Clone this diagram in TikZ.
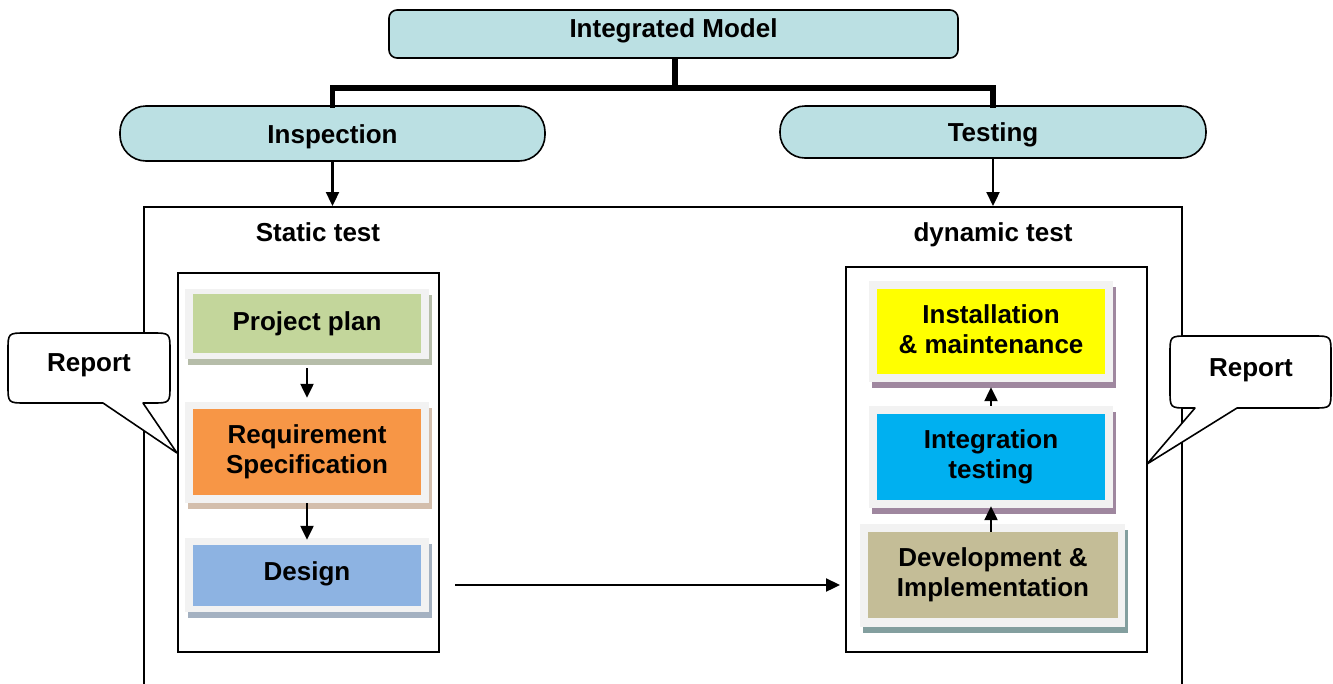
\documentclass[tikz,border=0pt]{standalone}
\usepackage{fontspec}
\setmainfont{Liberation Sans}
\usetikzlibrary{arrows.meta}
\definecolor{topfill}{HTML}{BBE0E3}
\definecolor{framegray}{HTML}{F2F2F2}
\definecolor{ppgreen}{HTML}{C3D69B}
\definecolor{rsorange}{HTML}{F79646}
\definecolor{desblue}{HTML}{8DB3E2}
\definecolor{instyellow}{HTML}{FFFF00}
\definecolor{integcyan}{HTML}{00B0F0}
\definecolor{devtan}{HTML}{C4BD97}
\tikzset{
  txt/.style={font=\fontsize{26}{30}\selectfont\bfseries, align=center, text=black},
  topbox/.style={txt, draw=black, line width=1.6pt, fill=topfill, inner sep=0pt},
  panel/.style={draw=black, line width=1.8pt, fill=white, inner sep=0pt},
  framebox/.style={fill=framegray, inner sep=0pt},
  colbox/.style={txt, inner sep=0pt},
  shadowbox/.style={inner sep=0pt},
  arr/.style={line width=2.3pt, -{Triangle[length=14pt,width=13pt]}},
  link/.style={line width=5.5pt},
  callout/.style={draw=black, line width=1.6pt, fill=white, line join=round},
  lower3/.style={text height=25pt, text depth=5.5pt}
}
\begin{document}
\begin{tikzpicture}[x=1pt,y=-1pt]
\useasboundingbox (0,0) rectangle (1333,683);
% top boxes
\node[topbox, rounded corners=8pt, minimum width=569pt, minimum height=48pt, text height=13pt, text depth=5.5pt] (im) at (673.5,34) {Integrated Model};
\node[topbox, lower3, rounded corners=26pt, minimum width=425pt, minimum height=55pt] (insp) at (332.5,133.5) {Inspection};
\node[topbox, lower3, rounded corners=25pt, minimum width=426pt, minimum height=52pt] (test) at (993,132) {Testing};
\coordinate (j) at (675,88);
\draw[link] (im.south -| j) -- (j);
\draw[link, line cap=rect] (insp.north) |- (j) -| (test.north);
% big panel
\node[panel, anchor=north west, minimum width=1038pt, minimum height=500pt] (big) at (143,206) {};
\draw[arr] (insp.south) -- (insp.south |- big.north);
\draw[arr] (test.south) -- (test.south |- big.north);
\node[txt, anchor=base] (st) at (318,241.5) {Static test};
\node[txt, anchor=base] (dt) at (993,241.5) {dynamic test};
% inner panels
\node[panel, minimum width=261pt, minimum height=379pt] (lbox) at (308.5,462.5) {};
\node[panel, minimum width=301pt, minimum height=385pt] (rbox) at (996.5,459.5) {};
% left stack
\node[shadowbox, fill=ppgreen!45!gray!75, minimum width=244pt, minimum height=70pt] (pps) at (310,330) {};
\node[framebox, minimum width=244pt, minimum height=70pt] (ppf) at (307,324) {};
\node[colbox, fill=ppgreen, minimum width=228pt, minimum height=59pt] (pp) at (307,323.5) {Project plan};

\node[shadowbox, fill=rsorange!40!gray!55, minimum width=244pt, minimum height=101pt] (rss) at (310,458.5) {};
\node[framebox, minimum width=244pt, minimum height=101pt] (rsf) at (307,452.5) {};
\node[colbox, fill=rsorange, minimum width=228pt, minimum height=86pt] (rs) at (307,452) {Requirement\\Specification};

\node[shadowbox, fill=desblue!45!gray!75, minimum width=244pt, minimum height=74pt] (dess) at (310,581) {};
\node[framebox, minimum width=244pt, minimum height=74pt] (desf) at (307,575) {};
\node[colbox, fill=desblue, minimum width=228pt, minimum height=61pt, text height=15pt, text depth=5.5pt] (des) at (307,575.5) {Design};

% right stack
\node[shadowbox, fill=violet!25!gray!75, minimum width=244pt, minimum height=101pt] (insts) at (994,337.5) {};
\node[framebox, minimum width=244pt, minimum height=101pt] (instf) at (991,331.5) {};
\node[colbox, fill=instyellow, minimum width=228pt, minimum height=85pt] (inst) at (991,331.5) {Installation\\\& maintenance\vphantom{g}};

\node[shadowbox, fill=violet!25!gray!75, minimum width=244pt, minimum height=102pt] (integs) at (994,463) {};
\node[framebox, minimum width=244pt, minimum height=102pt] (integf) at (991,457) {};
\node[colbox, fill=integcyan, minimum width=228pt, minimum height=86pt] (integ) at (991,457) {Integration\\testing};

\node[shadowbox, fill=teal!30!gray!75, minimum width=265pt, minimum height=103pt] (devs) at (995.5,581.5) {};
\node[framebox, minimum width=265pt, minimum height=103pt] (devf) at (992.5,575.5) {};
\node[colbox, fill=devtan, minimum width=250pt, minimum height=86pt] (dev) at (993,575) {Development \&\\Implementation};

% arrows
\draw[arr, shorten <=9pt, shorten >=4pt] (ppf.south) -- (rsf.north);
\draw[arr, shorten >=-2pt] (rsf.south) -- (desf.north);
\draw[arr, shorten >=5pt] (integf.north -| instf.south) -- (instf.south);
\draw[arr, shorten >=-2pt] (dev.north -| integf.south) -- (integf.south);
\coordinate (hl) at (455,585);
\coordinate (hr) at (840,585);
\draw[arr] (hl) -- (hr);

% callouts
\draw[callout] (103,403) -- (177,453) -- (143,403) -- (152,403)
  .. controls (170,403) .. (170,385) -- (170,351)
  .. controls (170,333) .. (152,333) -- (26,333)
  .. controls (8,333) .. (8,351) -- (8,385)
  .. controls (8,403) .. (26,403) -- cycle;
\node[txt, lower3] (rep1) at (89,362) {Report};
\draw[callout] (1237,408) -- (1147,464) -- (1195,408) -- (1188,408)
  .. controls (1170,408) .. (1170,390) -- (1170,354)
  .. controls (1170,336) .. (1188,336) -- (1313,336)
  .. controls (1331,336) .. (1331,354) -- (1331,390)
  .. controls (1331,408) .. (1313,408) -- cycle;
\node[txt, lower3] (rep2) at (1251,367) {Report};
\end{tikzpicture}
\end{document}
